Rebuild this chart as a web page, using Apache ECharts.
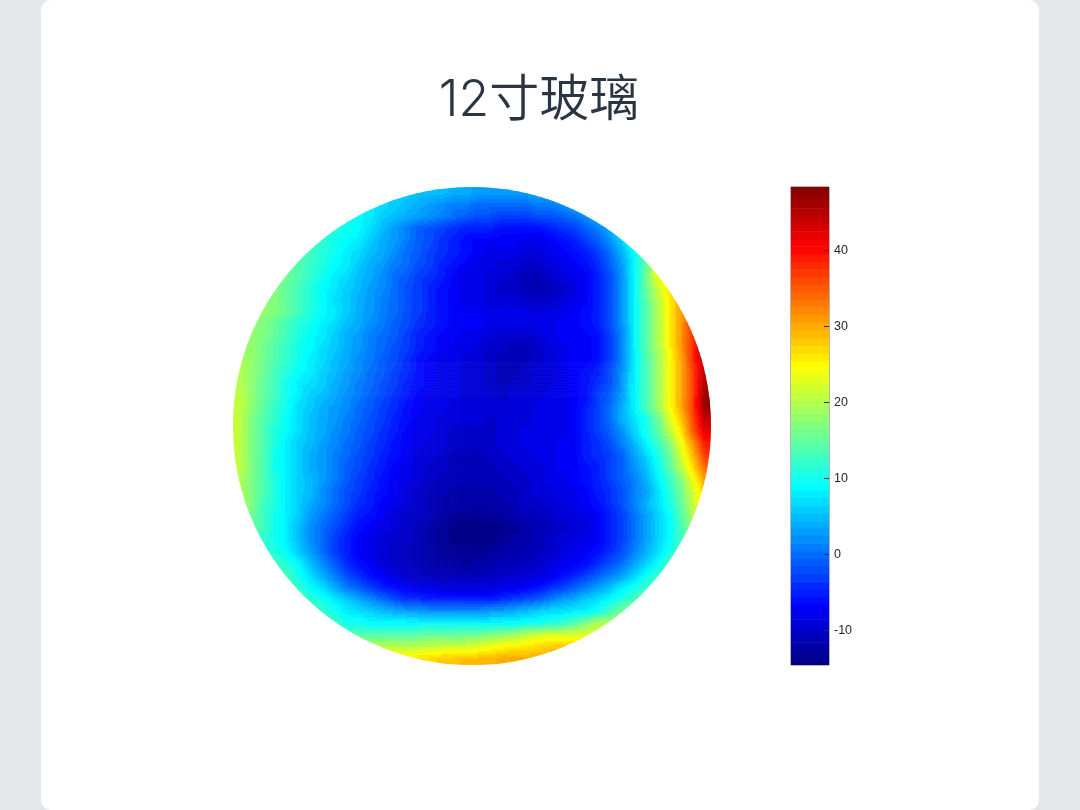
<!DOCTYPE html>
<html><head><meta charset="utf-8">
<style>html,body{margin:0;padding:0;background:#e4e8eb}#c{width:1080px;height:810px}</style>
<script src="https://cdn.jsdelivr.net/npm/echarts@6/dist/echarts.min.js"></script>
</head><body><div id="c"></div>
<script>
const titleText = '12寸玻璃';
const colorTicks = [-10,0,10,20,30,40];
const colorLevels = [-14,-13,-12,-11,-10,-9,-8,-7,-6,-5,-4,-3,-2,-1,0,1,2,3,4,5,6,7,8,9,10,11,12,13,14,15,16,17,18,19,20,21,22,23,24,25,26,27,28,29,30,31,32,33,34,35,36,37,38,39,40,41,42,43,44,45,46,47,48];
const jetStops = ['#000080','#0000ff','#0080ff','#00ffff','#80ff80','#ffff00','#ff8000','#ff0000','#800000'];
// one list per row of the wafer, centred on the disc
const waferRows = [
[6,6,5,5,5,4,4,3,3,3,3,3,4,4],
[8,7,6,5,4,3,2,1,1,0,0,0,0,0,1,1,2,4],
[10,9,8,6,5,4,3,2,1,0,-1,-2,-2,-3,-3,-3,-2,-2,-1,0,2,5],
[12,11,10,9,7,5,3,1,-1,-2,-3,-4,-5,-5,-5,-6,-6,-6,-6,-5,-4,-3,-1,1,4,8],
[13,12,10,9,8,6,4,3,1,-1,-2,-4,-5,-6,-7,-7,-7,-7,-8,-8,-7,-6,-5,-3,-1,2,6,11],
[14,13,11,10,8,7,5,4,2,0,-1,-3,-4,-5,-6,-7,-8,-8,-8,-9,-9,-8,-7,-6,-5,-3,0,4,9,15],
[15,14,12,11,9,8,6,4,3,1,0,-2,-3,-5,-6,-7,-8,-8,-9,-9,-10,-10,-9,-8,-7,-6,-4,-1,3,8,14,24],
[16,14,12,10,8,7,5,4,2,0,-1,-3,-4,-5,-7,-8,-8,-9,-9,-10,-11,-11,-10,-9,-8,-7,-5,-2,2,8,15,24],
[17,15,13,11,9,8,6,5,3,2,0,-2,-3,-5,-6,-7,-8,-8,-9,-10,-10,-11,-12,-11,-10,-9,-7,-5,-2,2,8,15,21,27],
[18,17,15,13,11,9,7,6,4,3,1,0,-2,-3,-5,-6,-7,-8,-8,-9,-9,-9,-10,-10,-10,-9,-8,-7,-5,-2,2,8,14,20,25,31],
[18,17,15,13,11,9,8,6,4,3,1,0,-2,-3,-5,-6,-7,-7,-7,-8,-8,-8,-8,-9,-8,-8,-7,-6,-5,-2,2,8,14,19,25,31],
[18,17,15,13,11,10,8,7,5,4,2,1,-1,-2,-4,-5,-6,-7,-7,-7,-8,-8,-8,-8,-8,-8,-7,-7,-6,-5,-2,2,8,14,19,25,31,38],
[18,17,15,13,11,9,8,6,4,3,1,0,-1,-3,-5,-6,-7,-7,-8,-8,-9,-10,-10,-10,-9,-8,-7,-7,-7,-6,-3,1,8,14,19,25,31,38],
[19,18,16,14,12,10,9,7,6,4,3,1,0,-2,-3,-5,-6,-7,-8,-8,-9,-10,-10,-11,-11,-10,-9,-8,-7,-7,-6,-3,1,8,14,19,25,31,38,45],
[20,18,16,14,12,10,8,7,5,4,2,1,-1,-2,-4,-6,-7,-8,-8,-9,-9,-10,-11,-11,-11,-10,-9,-8,-7,-7,-6,-3,1,8,13,18,24,30,38,45],
[20,18,16,13,11,9,8,6,5,3,2,0,-1,-3,-4,-6,-7,-8,-8,-9,-9,-10,-11,-11,-10,-9,-9,-8,-7,-6,-5,-2,2,8,13,18,24,30,37,45],
[20,18,15,13,10,8,7,6,4,3,1,0,-2,-3,-5,-6,-7,-8,-8,-9,-9,-10,-11,-10,-10,-9,-9,-8,-7,-6,-4,-2,2,8,13,18,24,30,37,46],
[21,18,15,13,10,8,6,5,4,2,1,-1,-2,-4,-5,-7,-8,-8,-8,-9,-9,-9,-10,-9,-9,-9,-8,-8,-7,-6,-3,-1,3,8,13,18,24,30,37,47],
[21,18,15,12,10,7,6,4,3,2,0,-1,-3,-4,-6,-7,-8,-8,-9,-9,-9,-9,-9,-9,-9,-8,-8,-8,-7,-5,-3,0,4,8,13,18,24,30,37,47],
[21,17,14,12,9,7,5,4,3,1,0,-2,-3,-5,-6,-8,-8,-9,-9,-9,-9,-10,-9,-9,-9,-8,-8,-8,-7,-5,-3,0,4,7,10,15,22,28,36,44],
[21,17,14,11,9,7,5,4,2,1,-1,-2,-4,-5,-7,-8,-8,-9,-10,-10,-10,-10,-9,-9,-8,-8,-8,-8,-7,-5,-3,-1,2,6,10,14,20,26,35,42],
[21,17,14,11,8,6,5,3,2,0,-1,-3,-4,-6,-7,-8,-9,-9,-10,-10,-10,-10,-9,-9,-8,-8,-8,-7,-7,-5,-4,-2,1,4,8,12,17,24,31,39],
[21,17,14,10,8,6,4,3,1,0,-2,-3,-5,-6,-7,-9,-9,-10,-11,-11,-11,-10,-10,-9,-9,-8,-8,-7,-7,-5,-4,-3,-1,3,6,10,15,22,29,37],
[21,17,14,10,8,6,4,3,1,-1,-2,-4,-5,-7,-8,-9,-10,-10,-11,-11,-11,-11,-10,-10,-9,-9,-8,-7,-7,-6,-5,-3,-1,2,5,9,14,20,27,34],
[20,17,14,11,8,6,5,3,1,-1,-3,-4,-6,-7,-8,-9,-10,-11,-11,-11,-11,-11,-11,-10,-10,-9,-8,-8,-7,-6,-5,-3,-1,1,4,8,12,17,24,31],
[20,17,14,11,8,6,5,2,0,-2,-3,-5,-6,-7,-9,-10,-11,-11,-12,-12,-12,-12,-11,-11,-10,-9,-9,-8,-8,-7,-5,-4,-2,1,3,7,11,16,22,28],
[20,17,13,11,8,6,4,2,0,-2,-4,-5,-7,-8,-9,-10,-11,-12,-12,-12,-12,-12,-12,-11,-10,-10,-9,-9,-8,-7,-6,-4,-2,1,4,7,10,15,21,27],
[16,13,10,8,6,3,1,-1,-3,-5,-6,-7,-9,-10,-10,-11,-12,-13,-13,-13,-13,-12,-12,-11,-11,-10,-9,-9,-8,-7,-5,-3,0,3,6,9,14,20],
[16,13,10,8,5,2,0,-2,-4,-6,-7,-8,-9,-10,-11,-12,-13,-14,-14,-14,-14,-14,-13,-12,-11,-11,-10,-9,-9,-7,-5,-3,0,3,6,9,13,19],
[12,10,8,5,2,0,-3,-5,-7,-8,-9,-10,-10,-11,-12,-13,-14,-14,-14,-14,-13,-12,-12,-11,-10,-9,-9,-8,-7,-5,-3,0,3,6,9,13],
[12,11,9,6,3,0,-3,-5,-7,-8,-9,-10,-11,-11,-12,-13,-13,-13,-13,-13,-12,-12,-11,-11,-10,-9,-8,-7,-6,-4,-2,1,4,7,10,14],
[13,11,9,5,2,-1,-4,-6,-7,-9,-10,-10,-11,-12,-12,-12,-13,-12,-12,-11,-11,-11,-10,-9,-8,-7,-6,-4,-2,0,3,6,9,13],
[13,10,7,4,1,-2,-4,-6,-7,-9,-10,-10,-11,-11,-11,-11,-11,-11,-10,-10,-9,-9,-8,-6,-5,-3,-1,1,3,6,9,12],
[15,12,9,7,4,1,-1,-3,-5,-6,-7,-8,-8,-9,-9,-9,-9,-9,-8,-8,-7,-6,-4,-3,-1,1,3,5,8,10,12,15],
[14,12,10,8,6,4,2,0,-2,-4,-4,-5,-5,-5,-5,-5,-5,-4,-3,-2,-1,1,3,4,6,7,9,11,13,16],
[14,12,10,8,7,6,5,4,3,3,2,2,2,2,2,3,3,4,5,6,7,7,8,8,10,13,16,18],
[15,13,10,10,9,9,9,9,9,9,9,9,9,9,9,9,9,10,10,11,12,14,17,20,20,20],
[14,14,14,14,14,14,15,15,15,15,16,16,17,18,19,21,22,23,23,23,23,22],
[21,21,21,21,21,21,22,22,22,23,24,25,26,26,27,28,28,28],
[26,26,27,27,28,28,29,29,29,30,30,30,30,30]
];
const N = waferRows.length;
const waferData = [];
waferRows.forEach((row, r) => {
  const start = (N - row.length) / 2;
  row.forEach((v, i) => waferData.push([start + i, r, v]));
});
const levelData = colorLevels.map(v => [0, v, v]);
const cMin = -14.5, cMax = 48.3;
const jet = v => echarts.color.lerp(Math.min(1, Math.max(0, (v - cMin) / (cMax - cMin))), jetStops);
// read a typed reading, holding the nearest one at the rim of a row
function reading(c, r) {
  const row = waferRows[Math.max(0, Math.min(N - 1, r))];
  const s = (N - row.length) / 2;
  return row[Math.max(0, Math.min(row.length - 1, c - s))];
}
const SUB = 6; // each cell is shaded like a contour plot between its readings

const chart = echarts.init(document.getElementById('c'), null, {renderer:'canvas'});
chart.setOption({
  animation:false,
  backgroundColor:'#e4e8eb',
  graphic:[{type:'rect',z:-10,silent:true,shape:{x:41,y:0,width:998,height:810,r:10},style:{fill:'#ffffff'}}],
  title:{text:titleText,left:534,top:71,textAlign:'center',
    textStyle:{fontFamily:'Inter, "Noto Sans CJK SC"',fontSize:50,fontWeight:350,color:'#2b3441'}},
  visualMap:[{show:false,type:'continuous',seriesIndex:[0,1],dimension:2,min:cMin,max:cMax,
    inRange:{color:jetStops}}],
  grid:[
    {left:233,top:187,width:478,height:478,show:false},
    {left:791,top:187,width:38,height:478,show:true,borderColor:'#6b6b6b',borderWidth:1,backgroundColor:'transparent'}
  ],
  xAxis:[
    {gridIndex:0,type:'value',min:0,max:N,show:false},
    {gridIndex:1,type:'value',min:0,max:1,show:false}
  ],
  yAxis:[
    {gridIndex:0,type:'value',min:0,max:N,inverse:true,show:false},
    {gridIndex:1,type:'value',min:cMin,max:cMax,position:'right',z:10,
      splitLine:{show:false},
      axisLine:{show:false,onZero:false},
      axisTick:{show:true,inside:true,length:5,lineStyle:{color:'#333',width:1},customValues:colorTicks},
      axisLabel:{show:true,margin:5,padding:[2,0,0,0],color:'#262626',fontFamily:'"Liberation Sans"',fontSize:12.5,customValues:colorTicks}}
  ],
  series:[
    {type:'custom',xAxisIndex:0,yAxisIndex:0,coordinateSystem:'cartesian2d',clip:false,silent:true,
     data:waferData,encode:{x:0,y:1},
     renderItem(params,api){
       const c=api.value(0), r=api.value(1);
       const p=api.coord([c,r]);
       const s=api.size([1,1]);
       const o=api.coord([0,0]);
       const n=api.size([N,N]);
       const children=[];
       for(let i=0;i<SUB;i++){
         for(let j=0;j<SUB;j++){
           const u=c+(i+0.5)/SUB-0.5, w=r+(j+0.5)/SUB-0.5;
           const c0=Math.floor(u), r0=Math.floor(w), fu=u-c0, fw=w-r0;
           const v=(reading(c0,r0)*(1-fu)+reading(c0+1,r0)*fu)*(1-fw)
                  +(reading(c0,r0+1)*(1-fu)+reading(c0+1,r0+1)*fu)*fw;
           children.push({type:'rect',
             shape:{x:p[0]+i*s[0]/SUB,y:p[1]+j*s[1]/SUB,width:s[0]/SUB+0.6,height:s[1]/SUB+0.6},
             style:{fill:jet(Math.round(v))}});
         }
       }
       return {type:'group',children,
         clipPath:{type:'circle',shape:{cx:o[0]+n[0]/2,cy:o[1]+n[1]/2,r:n[0]/2}}};
     }},
    {type:'custom',xAxisIndex:1,yAxisIndex:1,coordinateSystem:'cartesian2d',silent:true,clip:true,
     data:levelData,encode:{x:0,y:1},
     renderItem(params,api){
       const v=api.value(1);
       const a=api.coord([0,v+0.5]);
       const b=api.coord([1,v-0.5]);
       return {type:'rect',shape:{x:a[0],y:a[1],width:b[0]-a[0],height:b[1]-a[1]+0.5},
         style:{fill:api.visual('color')}};
     }}
  ]
});
</script></body></html>
